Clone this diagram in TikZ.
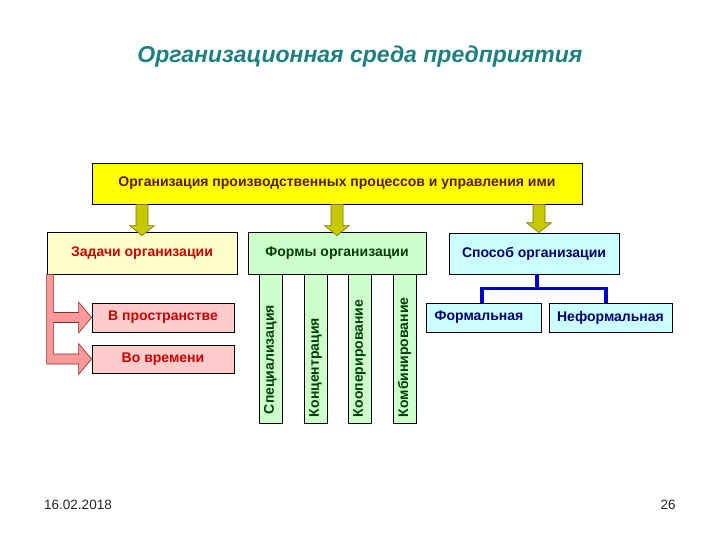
\documentclass[tikz,border=0pt]{standalone}
\usepackage{fontspec}
\setmainfont{Liberation Sans}
\usetikzlibrary{calc}
\definecolor{titlecol}{HTML}{1F8080}
\definecolor{topfill}{HTML}{FFFF00}
\definecolor{toptext}{HTML}{5C1A00}
\definecolor{olivefill}{HTML}{C8C800}
\definecolor{olivedraw}{HTML}{7A7A00}
\definecolor{zadfill}{HTML}{FFFFCC}
\definecolor{redtext}{HTML}{CC0000}
\definecolor{formfill}{HTML}{CCFFCC}
\definecolor{greentext}{HTML}{003F00}
\definecolor{cyanfill}{HTML}{CCFFFF}
\definecolor{bluetext}{HTML}{000070}
\definecolor{pinkfill}{HTML}{FFCCCC}
\definecolor{pinkarrow}{HTML}{FF9999}
\definecolor{pinkdraw}{HTML}{7F3030}
\definecolor{blueline}{HTML}{0000CC}
\newcommand\yarr[2]{%
  \filldraw[yarrowstyle] ($(#1)+(-6,0)$) -- ($(#2)+(-6,-10)$) -- ($(#2)+(-12.5,-10)$) -- (#2)
   -- ($(#2)+(12.5,-10)$) -- ($(#2)+(6,-10)$) -- ($(#1)+(6,0)$) -- cycle;}
\begin{document}
\begin{tikzpicture}[x=1pt,y=-1pt,
  box/.style={draw=black, line width=0.8pt, inner sep=0pt,
    font=\fontsize{14}{16}\selectfont\bfseries},
  yarrowstyle/.style={fill=olivefill, draw=olivedraw, line width=0.6pt},
  barbox/.style={box, fill=formfill, text=greentext, rotate=90,
    minimum width=149, minimum height=23, inner xsep=6pt, text width=137pt, align=left},
  bluecon/.style={draw=blueline, line width=3.5pt},
  pinkcon/.style={fill=pinkarrow, draw=pinkdraw, line width=0.6pt},
  foot/.style={font=\fontsize{13.5}{16}\selectfont, text=black!85}
]
\useasboundingbox (0,0) rectangle (720,540);

\node (title) at (360,57) {\fontsize{23}{27}\selectfont\bfseries\itshape\color{titlecol}Организационная среда предприятия};

\node[box, fill=topfill, text=toptext, minimum width=490, minimum height=41] (top) at (337,183.5)
  {Организация производственных процессов и управления ими};

\node[box, fill=zadfill, text=redtext, minimum width=190, minimum height=42] (zad) at (142,253) {Задачи организации};
\node[box, fill=formfill, text=greentext, minimum width=178, minimum height=42] (form) at (337,253) {Формы организации};
\node[box, fill=cyanfill, text=bluetext, minimum width=170, minimum height=41] (spos) at (534,253.5) {Способ организации};

% vertical bars
\node[barbox] (b1) at (270.5,348.5) {\hspace*{3pt}Специализация};
\node[barbox] (b2) at (315.5,348.5) {\hspace*{0pt}Концентрация};
\node[barbox] (b3) at (359.5,348.5) {\hspace*{0pt}Кооперирование};
\node[barbox] (b4) at (404.5,348.5) {\hspace*{0pt}Комбинирование};

% способ children
\node[box, fill=cyanfill, text=bluetext, minimum width=115, minimum height=29] (formal) at (483.5,317.5) {Формальная\rule{9pt}{0pt}};
\node[box, fill=cyanfill, text=bluetext, minimum width=123, minimum height=29] (neformal) at (610.5,317.5) {Неформальная};

% задачи children
\node[box, fill=pinkfill, text=redtext, minimum width=142, minimum height=29] (prost) at (163,317.5) {В пространстве};
\node[box, fill=pinkfill, text=redtext, minimum width=142, minimum height=28] (vrem) at (163,359) {Во времени};

% olive arrows
\coordinate (a1s) at (top.south -| zad.north);
\coordinate (a1t) at ($(zad.north)+(0,4)$);
\coordinate (a2s) at (top.south -| form.north);
\coordinate (a2t) at ($(form.north)+(0,4)$);
\coordinate (a3s) at ($(top.south -| spos.north)+(5,0)$);
\coordinate (a3t) at ($(spos.north)+(5,0)$);
\yarr{a1s}{a1t}
\yarr{a2s}{a2t}
\yarr{a3s}{a3t}

% blue bracket
\coordinate (j) at ($(formal.north)+(-1.5,-14)$);
\draw[bluecon] ($(formal.north)+(-1.5,0)$) -- (j) -| ($(neformal.north)+(-4.5,0)$);
\draw[bluecon] ($(spos.south)+(3,0)$) -- ($(spos.south |- j)+(3,0)$);

% pink connector
\coordinate (Z) at (zad.south west);
\coordinate (P) at (prost.west);
\coordinate (V) at (vrem.west);
\filldraw[pinkcon] (Z) -- ($(Z)+(7,0)$) -- ($(Z|-P)+(7,-5)$) -- ($(P)+(-13,-5)$) -- ($(P)+(-13,-15.5)$) -- (P)
  -- ($(P)+(-13,15.5)$) -- ($(P)+(-13,5)$) -- ($(Z|-P)+(7,5)$) -- ($(Z|-V)+(7,-5)$)
  -- ($(V)+(-13,-5)$) -- ($(V)+(-13,-15.5)$) -- (V) -- ($(V)+(-13,15.5)$) -- ($(V)+(-13,5)$)
  -- ($(Z|-V)+(0,5)$) -- cycle;

% footer
\node[foot] (date) at (78,505) {16.02.2018};
\node[foot] (page) at (668,505) {26};
\end{tikzpicture}
\end{document}
